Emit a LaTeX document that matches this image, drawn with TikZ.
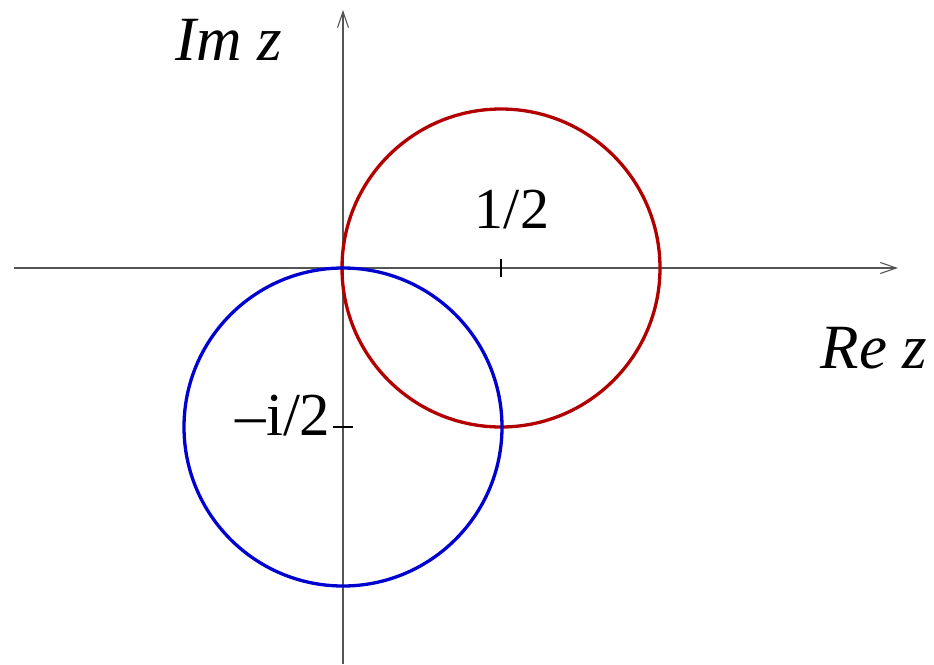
\documentclass[tikz,border=0pt]{standalone}
\usepackage{fontspec}
\setmainfont{Liberation Serif}
\usetikzlibrary{arrows.meta}
\definecolor{cred}{RGB}{178,0,0}
\definecolor{cblue}{RGB}{0,0,208}
\definecolor{axisgray}{RGB}{85,85,85}
\begin{document}
\begin{tikzpicture}[x=1pt,y=-1pt,
  axisline/.style={draw=axisgray,line width=1.3pt,-{Straight Barb[length=16pt,width=11pt,line width=1.1pt]}},
  tickline/.style={draw=black,line width=1.3pt},
  circ/.style={line width=3.3pt},
  itlabel/.style={font=\fontsize{63}{72}\selectfont\itshape,anchor=base,inner sep=0pt},
  numlabel/.style={font=\fontsize{58}{66}\selectfont,anchor=base,inner sep=0pt},
  neglabel/.style={font=\fontsize{61}{70}\selectfont,anchor=base,inner sep=0pt}]
\useasboundingbox (0,0) rectangle (934,664);
\coordinate (O) at (343,268);
\coordinate (xs) at (14,268);
\coordinate (xe) at (898,268);
\coordinate (ys) at (343,664);
\coordinate (ye) at (343,10);
\coordinate (cr) at (501,268);
\coordinate (cb) at (343,427);
\draw[axisline] (xs) -- (xe);
\draw[axisline] (ys) -- (ye);
\draw[tickline] (501,259) -- (501,277);
\draw[tickline] (333,427) -- (353,427);
\draw[circ,cred] (cr) circle[radius=159];
\draw[circ,cblue] (cb) circle[radius=159];
\node[itlabel] (im) at (229,60) {Im z};
\node[itlabel] (re) at (874,368) {Re z};
\node[numlabel] (half) at (512,228) {1/2};
\node[neglabel] (mihalf) at (283,435) {–i/2};
\end{tikzpicture}
\end{document}
